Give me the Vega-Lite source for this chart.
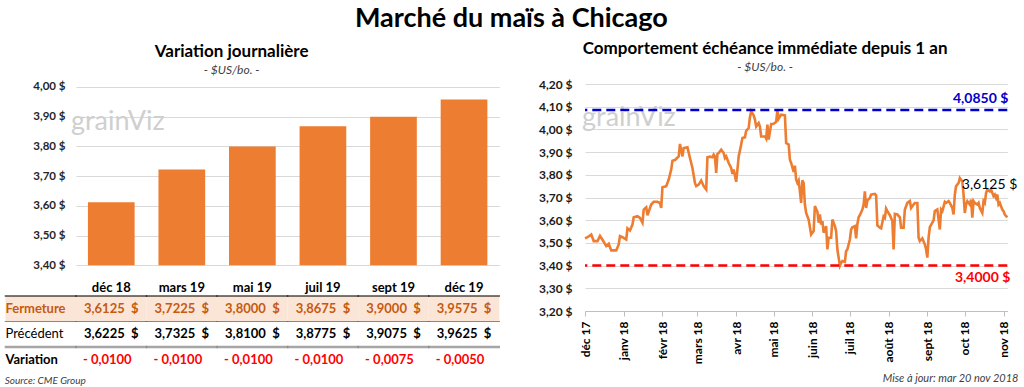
{
  "$schema": "https://vega.github.io/schema/vega-lite/v6.json",
  "background": "#FFFFFF",
  "padding": {"left": 4, "right": 4, "top": 5, "bottom": 0},
  "title": {"text": "Marché du maïs à Chicago", "fontSize": 27, "fontWeight": "bold", "anchor": "middle", "offset": 7, "color": "#000000"},
  "spacing": 37,
  "resolve": {"scale": {"x": "independent", "y": "independent", "color": "independent"}},
  "datasets": {
    "tableau": [
      {"rangee": "Fermeture", "contrat": "lib"},
      {"rangee": "Précédent", "contrat": "lib"},
      {"rangee": "Variation", "contrat": "lib"},
      {"rangee": "Fermeture", "contrat": "déc 18", "valeur": 3.6125},
      {"rangee": "Fermeture", "contrat": "mars 19", "valeur": 3.7225},
      {"rangee": "Fermeture", "contrat": "mai 19", "valeur": 3.8},
      {"rangee": "Fermeture", "contrat": "juil 19", "valeur": 3.8675},
      {"rangee": "Fermeture", "contrat": "sept 19", "valeur": 3.9},
      {"rangee": "Fermeture", "contrat": "déc 19", "valeur": 3.9575},
      {"rangee": "Précédent", "contrat": "déc 18", "valeur": 3.6225},
      {"rangee": "Précédent", "contrat": "mars 19", "valeur": 3.7325},
      {"rangee": "Précédent", "contrat": "mai 19", "valeur": 3.81},
      {"rangee": "Précédent", "contrat": "juil 19", "valeur": 3.8775},
      {"rangee": "Précédent", "contrat": "sept 19", "valeur": 3.9075},
      {"rangee": "Précédent", "contrat": "déc 19", "valeur": 3.9625},
      {"rangee": "Variation", "contrat": "déc 18", "valeur": -0.01},
      {"rangee": "Variation", "contrat": "mars 19", "valeur": -0.01},
      {"rangee": "Variation", "contrat": "mai 19", "valeur": -0.01},
      {"rangee": "Variation", "contrat": "juil 19", "valeur": -0.01},
      {"rangee": "Variation", "contrat": "sept 19", "valeur": -0.0075},
      {"rangee": "Variation", "contrat": "déc 19", "valeur": -0.005}
    ],
    "cours": [
      {"date": "2017-12-01", "prix": 3.52}, {"date": "2017-12-03", "prix": 3.525}, {"date": "2017-12-06", "prix": 3.537},
      {"date": "2017-12-08", "prix": 3.508}, {"date": "2017-12-11", "prix": 3.508}, {"date": "2017-12-13", "prix": 3.531},
      {"date": "2017-12-15", "prix": 3.514}, {"date": "2017-12-18", "prix": 3.486}, {"date": "2017-12-20", "prix": 3.496},
      {"date": "2017-12-22", "prix": 3.467}, {"date": "2017-12-24", "prix": 3.467}, {"date": "2017-12-26", "prix": 3.467},
      {"date": "2017-12-28", "prix": 3.493}, {"date": "2017-12-29", "prix": 3.53}, {"date": "2017-12-31", "prix": 3.525},
      {"date": "2018-01-03", "prix": 3.515}, {"date": "2018-01-04", "prix": 3.564}, {"date": "2018-01-06", "prix": 3.555},
      {"date": "2018-01-08", "prix": 3.581}, {"date": "2018-01-09", "prix": 3.613}, {"date": "2018-01-12", "prix": 3.618},
      {"date": "2018-01-14", "prix": 3.61}, {"date": "2018-01-16", "prix": 3.589}, {"date": "2018-01-17", "prix": 3.647},
      {"date": "2018-01-19", "prix": 3.657}, {"date": "2018-01-20", "prix": 3.622}, {"date": "2018-01-23", "prix": 3.669},
      {"date": "2018-01-25", "prix": 3.681}, {"date": "2018-01-28", "prix": 3.681}, {"date": "2018-01-30", "prix": 3.676},
      {"date": "2018-01-31", "prix": 3.654}, {"date": "2018-02-01", "prix": 3.745}, {"date": "2018-02-04", "prix": 3.75},
      {"date": "2018-02-06", "prix": 3.779}, {"date": "2018-02-08", "prix": 3.823}, {"date": "2018-02-09", "prix": 3.862},
      {"date": "2018-02-11", "prix": 3.865}, {"date": "2018-02-14", "prix": 3.881}, {"date": "2018-02-15", "prix": 3.936},
      {"date": "2018-02-17", "prix": 3.881}, {"date": "2018-02-18", "prix": 3.918}, {"date": "2018-02-21", "prix": 3.921},
      {"date": "2018-02-23", "prix": 3.874}, {"date": "2018-02-25", "prix": 3.83}, {"date": "2018-02-27", "prix": 3.764},
      {"date": "2018-02-28", "prix": 3.75}, {"date": "2018-03-02", "prix": 3.757}, {"date": "2018-03-04", "prix": 3.775},
      {"date": "2018-03-06", "prix": 3.75}, {"date": "2018-03-08", "prix": 3.735}, {"date": "2018-03-09", "prix": 3.877},
      {"date": "2018-03-11", "prix": 3.88}, {"date": "2018-03-13", "prix": 3.877}, {"date": "2018-03-14", "prix": 3.889},
      {"date": "2018-03-15", "prix": 3.881}, {"date": "2018-03-16", "prix": 3.808}, {"date": "2018-03-17", "prix": 3.892},
      {"date": "2018-03-18", "prix": 3.896}, {"date": "2018-03-20", "prix": 3.911}, {"date": "2018-03-22", "prix": 3.896},
      {"date": "2018-03-23", "prix": 3.874}, {"date": "2018-03-24", "prix": 3.881}, {"date": "2018-03-26", "prix": 3.852},
      {"date": "2018-03-28", "prix": 3.83}, {"date": "2018-03-29", "prix": 3.804}, {"date": "2018-03-30", "prix": 3.823},
      {"date": "2018-04-01", "prix": 3.769}, {"date": "2018-04-02", "prix": 3.823}, {"date": "2018-04-03", "prix": 3.881},
      {"date": "2018-04-05", "prix": 3.933}, {"date": "2018-04-06", "prix": 3.962}, {"date": "2018-04-08", "prix": 3.965},
      {"date": "2018-04-09", "prix": 3.994}, {"date": "2018-04-11", "prix": 4.006}, {"date": "2018-04-12", "prix": 4.053},
      {"date": "2018-04-13", "prix": 4.08}, {"date": "2018-04-15", "prix": 4.062}, {"date": "2018-04-16", "prix": 4.043},
      {"date": "2018-04-17", "prix": 4.013}, {"date": "2018-04-19", "prix": 4.028}, {"date": "2018-04-20", "prix": 4.013},
      {"date": "2018-04-21", "prix": 3.969}, {"date": "2018-04-24", "prix": 3.969}, {"date": "2018-04-25", "prix": 3.959},
      {"date": "2018-04-26", "prix": 4.021}, {"date": "2018-04-27", "prix": 3.955}, {"date": "2018-04-29", "prix": 4.024},
      {"date": "2018-05-01", "prix": 4.025}, {"date": "2018-05-03", "prix": 4.033}, {"date": "2018-05-04", "prix": 4.085},
      {"date": "2018-05-05", "prix": 4.047}, {"date": "2018-05-07", "prix": 4.065}, {"date": "2018-05-10", "prix": 4.062},
      {"date": "2018-05-11", "prix": 3.94}, {"date": "2018-05-13", "prix": 3.933}, {"date": "2018-05-14", "prix": 3.867},
      {"date": "2018-05-15", "prix": 3.852}, {"date": "2018-05-17", "prix": 3.813}, {"date": "2018-05-18", "prix": 3.84},
      {"date": "2018-05-19", "prix": 3.779}, {"date": "2018-05-20", "prix": 3.764}, {"date": "2018-05-21", "prix": 3.775},
      {"date": "2018-05-22", "prix": 3.727}, {"date": "2018-05-23", "prix": 3.676}, {"date": "2018-05-24", "prix": 3.776},
      {"date": "2018-05-25", "prix": 3.764}, {"date": "2018-05-26", "prix": 3.669}, {"date": "2018-05-27", "prix": 3.632},
      {"date": "2018-05-29", "prix": 3.603}, {"date": "2018-05-31", "prix": 3.537}, {"date": "2018-06-02", "prix": 3.552},
      {"date": "2018-06-03", "prix": 3.662}, {"date": "2018-06-05", "prix": 3.637}, {"date": "2018-06-06", "prix": 3.589},
      {"date": "2018-06-07", "prix": 3.625}, {"date": "2018-06-08", "prix": 3.581}, {"date": "2018-06-09", "prix": 3.596},
      {"date": "2018-06-10", "prix": 3.545}, {"date": "2018-06-12", "prix": 3.574}, {"date": "2018-06-13", "prix": 3.471},
      {"date": "2018-06-14", "prix": 3.523}, {"date": "2018-06-16", "prix": 3.523}, {"date": "2018-06-17", "prix": 3.603},
      {"date": "2018-06-19", "prix": 3.574}, {"date": "2018-06-20", "prix": 3.552}, {"date": "2018-06-21", "prix": 3.471},
      {"date": "2018-06-23", "prix": 3.4}, {"date": "2018-06-24", "prix": 3.413}, {"date": "2018-06-25", "prix": 3.42},
      {"date": "2018-06-27", "prix": 3.417}, {"date": "2018-06-28", "prix": 3.464}, {"date": "2018-06-29", "prix": 3.471},
      {"date": "2018-07-01", "prix": 3.515}, {"date": "2018-07-02", "prix": 3.559}, {"date": "2018-07-03", "prix": 3.569},
      {"date": "2018-07-05", "prix": 3.574}, {"date": "2018-07-06", "prix": 3.52}, {"date": "2018-07-07", "prix": 3.582},
      {"date": "2018-07-08", "prix": 3.613}, {"date": "2018-07-09", "prix": 3.622}, {"date": "2018-07-11", "prix": 3.647},
      {"date": "2018-07-12", "prix": 3.669}, {"date": "2018-07-13", "prix": 3.727}, {"date": "2018-07-14", "prix": 3.654},
      {"date": "2018-07-15", "prix": 3.687}, {"date": "2018-07-17", "prix": 3.698}, {"date": "2018-07-18", "prix": 3.713},
      {"date": "2018-07-21", "prix": 3.716}, {"date": "2018-07-22", "prix": 3.71}, {"date": "2018-07-23", "prix": 3.577},
      {"date": "2018-07-25", "prix": 3.567}, {"date": "2018-07-26", "prix": 3.564}, {"date": "2018-07-28", "prix": 3.616},
      {"date": "2018-07-29", "prix": 3.61}, {"date": "2018-07-30", "prix": 3.651}, {"date": "2018-07-31", "prix": 3.64},
      {"date": "2018-08-02", "prix": 3.622}, {"date": "2018-08-04", "prix": 3.596}, {"date": "2018-08-05", "prix": 3.471},
      {"date": "2018-08-06", "prix": 3.628}, {"date": "2018-08-08", "prix": 3.625}, {"date": "2018-08-10", "prix": 3.613},
      {"date": "2018-08-11", "prix": 3.567}, {"date": "2018-08-13", "prix": 3.567}, {"date": "2018-08-14", "prix": 3.647},
      {"date": "2018-08-16", "prix": 3.676}, {"date": "2018-08-18", "prix": 3.684}, {"date": "2018-08-19", "prix": 3.654},
      {"date": "2018-08-21", "prix": 3.669}, {"date": "2018-08-22", "prix": 3.676}, {"date": "2018-08-24", "prix": 3.676},
      {"date": "2018-08-25", "prix": 3.523}, {"date": "2018-08-26", "prix": 3.508}, {"date": "2018-08-28", "prix": 3.52},
      {"date": "2018-08-30", "prix": 3.493}, {"date": "2018-08-31", "prix": 3.471}, {"date": "2018-09-01", "prix": 3.435},
      {"date": "2018-09-02", "prix": 3.523}, {"date": "2018-09-03", "prix": 3.569}, {"date": "2018-09-05", "prix": 3.589},
      {"date": "2018-09-06", "prix": 3.599}, {"date": "2018-09-07", "prix": 3.64}, {"date": "2018-09-09", "prix": 3.647},
      {"date": "2018-09-11", "prix": 3.559}, {"date": "2018-09-12", "prix": 3.647}, {"date": "2018-09-13", "prix": 3.64},
      {"date": "2018-09-15", "prix": 3.681}, {"date": "2018-09-16", "prix": 3.676}, {"date": "2018-09-18", "prix": 3.684},
      {"date": "2018-09-19", "prix": 3.676}, {"date": "2018-09-21", "prix": 3.654}, {"date": "2018-09-22", "prix": 3.625},
      {"date": "2018-09-23", "prix": 3.713}, {"date": "2018-09-24", "prix": 3.75}, {"date": "2018-09-26", "prix": 3.764},
      {"date": "2018-09-27", "prix": 3.786}, {"date": "2018-09-29", "prix": 3.771}, {"date": "2018-09-30", "prix": 3.713},
      {"date": "2018-10-01", "prix": 3.632}, {"date": "2018-10-02", "prix": 3.669}, {"date": "2018-10-03", "prix": 3.684},
      {"date": "2018-10-05", "prix": 3.669}, {"date": "2018-10-06", "prix": 3.691}, {"date": "2018-10-07", "prix": 3.611},
      {"date": "2018-10-08", "prix": 3.684}, {"date": "2018-10-09", "prix": 3.676}, {"date": "2018-10-11", "prix": 3.669},
      {"date": "2018-10-12", "prix": 3.676}, {"date": "2018-10-13", "prix": 3.654}, {"date": "2018-10-15", "prix": 3.632},
      {"date": "2018-10-16", "prix": 3.684}, {"date": "2018-10-17", "prix": 3.676}, {"date": "2018-10-18", "prix": 3.72},
      {"date": "2018-10-19", "prix": 3.735}, {"date": "2018-10-21", "prix": 3.727}, {"date": "2018-10-22", "prix": 3.735},
      {"date": "2018-10-24", "prix": 3.706}, {"date": "2018-10-25", "prix": 3.713}, {"date": "2018-10-26", "prix": 3.698},
      {"date": "2018-10-27", "prix": 3.713}, {"date": "2018-10-28", "prix": 3.669}, {"date": "2018-10-29", "prix": 3.676},
      {"date": "2018-10-31", "prix": 3.647}, {"date": "2018-11-01", "prix": 3.64}, {"date": "2018-11-02", "prix": 3.625},
      {"date": "2018-11-04", "prix": 3.6125}
    ]
  },
  "hconcat": [
    {
      "vconcat": [
        {
          "width": 423.3,
          "height": 181.3,
          "title": {"text": "Variation journalière", "subtitle": "- $US/bo. -", "dx": -56},
          "layer": [
            {
              "data": {"name": "tableau"},
              "transform": [{"filter": "datum.rangee == 'Fermeture' && datum.contrat != 'lib'"}],
              "mark": {"type": "bar", "color": "#ED7D31"},
              "encoding": {
                "x": {"field": "contrat", "type": "nominal",
                  "scale": {"domain": ["déc 18", "mars 19", "mai 19", "juil 19", "sept 19", "déc 19"], "paddingInner": 0.338, "paddingOuter": 0.169},
                  "axis": {"title": null, "domain": false, "ticks": false, "tickSize": 0, "labelPadding": 16, "labelFontSize": 13, "labelFontWeight": "bold", "labelColor": "#000000", "labelAngle": 0, "bandPosition": 0.5}},
                "y": {"field": "valeur", "type": "quantitative",
                  "scale": {"domain": [3.4, 4.01], "zero": false, "nice": false},
                  "axis": {"title": null, "values": [3.4, 3.5, 3.6, 3.7, 3.8, 3.9, 4.0], "labelOverlap": false, "labelExpr": "replace(format(datum.value, '.2f'), '.', ',') + ' $'", "grid": true, "gridColor": "#D9D9D9", "domain": false, "ticks": false, "tickSize": 0, "labelPadding": 11, "labelFontSize": 11.5, "labelFontWeight": "bold", "labelColor": "#262626"}},
                "y2": {"datum": 3.4}
              }
            },
            {
              "data": {"values": [{}]},
              "mark": {"type": "text", "text": "grainViz", "align": "left", "baseline": "alphabetic", "fontSize": 27, "color": "#CFCFCF", "dx": -17},
              "encoding": {
                "x": {"datum": "déc 18", "bandPosition": 0, "axis": {"title": null, "domain": false, "ticks": false, "tickSize": 0, "labelPadding": 16, "labelFontSize": 13, "labelFontWeight": "bold", "labelColor": "#000000", "labelAngle": 0, "bandPosition": 0.5}},
                "y": {"datum": 3.855, "axis": {"title": null, "values": [3.4, 3.5, 3.6, 3.7, 3.8, 3.9, 4.0], "labelOverlap": false, "labelExpr": "replace(format(datum.value, '.2f'), '.', ',') + ' $'", "grid": true, "gridColor": "#D9D9D9", "domain": false, "ticks": false, "tickSize": 0, "labelPadding": 11, "labelFontSize": 11.5, "labelFontWeight": "bold", "labelColor": "#262626"}}
              }
            }
          ]
        },
        {
          "width": 423.3,
          "height": 76.5,
          "data": {"name": "tableau"},
          "title": {"text": "Source: CME Group", "orient": "bottom", "anchor": "start", "frame": "bounds", "fontSize": 10, "subtitleFontSize": 10, "fontStyle": "italic", "fontWeight": "normal", "color": "#404040", "offset": 3},
          "transform": [
            {"calculate": "datum.contrat == 'lib' ? datum.rangee : (datum.rangee == 'Variation' ? (datum.valeur < 0 ? '- ' : '+ ') + replace(format(abs(datum.valeur), '.4f'), '.', ',') : replace(format(datum.valeur, '.4f'), '.', ',') + '\u00a0\u00a0$')", "as": "texte"}
          ],
          "encoding": {
            "x": {"field": "contrat", "type": "nominal",
              "scale": {"domain": ["lib", "déc 18", "mars 19", "mai 19", "juil 19", "sept 19", "déc 19"], "range": [-70.55, 423.3], "paddingInner": 0, "paddingOuter": 0},
              "axis": null},
            "y": {"field": "rangee", "type": "nominal",
              "scale": {"domain": ["Fermeture", "Précédent", "Variation"], "paddingInner": 0, "paddingOuter": 0},
              "axis": null}
          },
          "layer": [
            {
              "transform": [{"filter": "datum.rangee == 'Fermeture'"}],
              "mark": {"type": "rect", "color": "#FBE5D6"}
            },
            {
              "transform": [{"filter": "datum.rangee == 'Fermeture'"}],
              "mark": {"type": "tick", "orient": "horizontal", "color": "#000000", "thickness": 1.5, "size": 72},
              "encoding": {"y": {"field": "rangee", "type": "nominal", "bandPosition": 0}}
            },
            {
              "transform": [{"filter": "datum.rangee == 'Précédent'"}],
              "mark": {"type": "tick", "orient": "horizontal", "color": "#595959", "thickness": 0.8, "size": 72},
              "encoding": {"y": {"field": "rangee", "type": "nominal", "bandPosition": 0}}
            },
            {
              "transform": [{"filter": "datum.rangee == 'Variation'"}],
              "mark": {"type": "tick", "orient": "horizontal", "color": "#808080", "thickness": 2.5, "size": 72},
              "encoding": {"y": {"field": "rangee", "type": "nominal", "bandPosition": 0}}
            },
            {
              "transform": [{"filter": "datum.contrat != 'lib' && datum.rangee != 'Variation'"}],
              "mark": {"type": "text", "fontSize": 13, "fontWeight": "bold", "align": "center", "baseline": "middle"},
              "encoding": {
                "text": {"field": "texte"},
                "color": {"condition": {"test": "datum.rangee == 'Fermeture'", "value": "#C55A11"}, "value": "#000000"}
              }
            },
            {
              "transform": [{"filter": "datum.contrat != 'lib' && datum.rangee == 'Variation'"}],
              "mark": {"type": "text", "fontSize": 13, "fontWeight": "bold", "align": "center", "baseline": "middle", "dx": -4, "color": "#FF0000"},
              "encoding": {"text": {"field": "texte"}}
            },
            {
              "transform": [{"filter": "datum.contrat == 'lib' && datum.rangee != 'Précédent'"}],
              "mark": {"type": "text", "fontSize": 13, "fontWeight": "bold", "align": "left", "baseline": "middle"},
              "encoding": {
                "x": {"field": "contrat", "type": "nominal", "bandPosition": 0},
                "text": {"field": "texte"},
                "color": {"condition": {"test": "datum.rangee == 'Fermeture'", "value": "#C55A11"}, "value": "#000000"}
              }
            },
            {
              "transform": [{"filter": "datum.contrat == 'lib' && datum.rangee == 'Précédent'"}],
              "mark": {"type": "text", "fontSize": 13, "fontWeight": "normal", "align": "left", "baseline": "middle", "color": "#000000"},
              "encoding": {
                "x": {"field": "contrat", "type": "nominal", "bandPosition": 0},
                "text": {"field": "texte"}
              }
            }
          ]
        }
      ],
      "spacing": 0,
      "resolve": {"scale": {"x": "independent", "y": "independent"}}
    },
    {
      "width": 422.3,
      "height": 227,
      "title": {"text": "Comportement échéance immédiate depuis 1 an", "subtitle": "- $US/bo. -", "dx": -31},
      "data": {"name": "cours"},
      "encoding": {
        "x": {"field": "date", "type": "temporal",
          "scale": {"type": "utc", "domain": [{"year": 2017, "month": 12, "date": 1, "utc": true}, {"year": 2018, "month": 11, "date": 4, "utc": true}]},
          "axis": {
            "values": [
              {"year": 2017, "month": 12, "date": 1, "utc": true}, {"year": 2018, "month": 1, "date": 1, "utc": true},
              {"year": 2018, "month": 2, "date": 1, "utc": true}, {"year": 2018, "month": 3, "date": 1, "utc": true},
              {"year": 2018, "month": 4, "date": 1, "utc": true}, {"year": 2018, "month": 5, "date": 1, "utc": true},
              {"year": 2018, "month": 6, "date": 1, "utc": true}, {"year": 2018, "month": 7, "date": 1, "utc": true},
              {"year": 2018, "month": 8, "date": 1, "utc": true}, {"year": 2018, "month": 9, "date": 1, "utc": true},
              {"year": 2018, "month": 10, "date": 1, "utc": true}, {"year": 2018, "month": 11, "date": 1, "utc": true}
            ],
            "labelExpr": "['janv','févr','mars','avr','mai','juin','juil','août','sept','oct','nov','déc'][utcmonth(datum.value)] + ' ' + utcFormat(datum.value, '%y')",
            "labelAngle": -90, "labelAlign": "right", "labelBaseline": "middle",
            "labelFontSize": 12, "labelFontWeight": "bold", "labelColor": "#000000",
            "labelOverlap": false, "labelFlush": false, "labelPadding": 5,
            "domainColor": "#BFBFBF", "tickColor": "#BFBFBF", "tickSize": 5, "grid": false,
            "title": "Mise à jour: mar 20 nov 2018", "titleAnchor": "end", "titleAlign": "right", "titleX": 433, "titleFontSize": 11, "titleFontStyle": "italic", "titleFontWeight": "normal", "titleColor": "#404040", "titlePadding": 9
          }},
        "y": {"field": "prix", "type": "quantitative",
          "scale": {"domain": [3.2, 4.2], "zero": false, "nice": false},
          "axis": {"title": null, "values": [3.2, 3.3, 3.4, 3.5, 3.6, 3.7, 3.8, 3.9, 4.0, 4.1, 4.2], "labelOverlap": false, "labelExpr": "replace(format(datum.value, '.2f'), '.', ',') + ' $'", "grid": true, "gridColor": "#D9D9D9", "domain": false, "ticks": false, "tickSize": 0, "labelPadding": 13, "labelFontSize": 12, "labelFontWeight": "bold", "labelColor": "#1A1A1A"}}
      },
      "layer": [
        {
          "transform": [
            {"joinaggregate": [{"op": "min", "field": "date", "as": "dmin"}]},
            {"filter": "time(datum.date) == time(datum.dmin)"}
          ],
          "mark": {"type": "text", "text": "grainViz", "align": "left", "baseline": "alphabetic", "fontSize": 27, "color": "#CFCFCF", "dx": -3},
          "encoding": {
            "y": {"datum": 4.016, "type": "quantitative", "axis": {"title": null, "values": [3.2, 3.3, 3.4, 3.5, 3.6, 3.7, 3.8, 3.9, 4.0, 4.1, 4.2], "labelOverlap": false, "labelExpr": "replace(format(datum.value, '.2f'), '.', ',') + ' $'", "grid": true, "gridColor": "#D9D9D9", "domain": false, "ticks": false, "tickSize": 0, "labelPadding": 13, "labelFontSize": 12, "labelFontWeight": "bold", "labelColor": "#1A1A1A"}}
          }
        },
        {
          "mark": {"type": "line", "color": "#ED7D31", "strokeWidth": 2.6}
        },
        {
          "transform": [
            {"joinaggregate": [{"op": "max", "field": "prix", "as": "pmax"}, {"op": "min", "field": "prix", "as": "pmin"}, {"op": "max", "field": "date", "as": "dmax"}]},
            {"filter": "time(datum.date) == time(datum.dmax)"},
            {"fold": ["pmax", "pmin"], "as": ["extreme", "niveau"]},
            {"calculate": "replace(format(datum.niveau, '.4f'), '.', ',') + ' $'", "as": "etiquette"}
          ],
          "layer": [
            {
              "mark": {"type": "rule", "strokeDash": [9, 5], "strokeWidth": 2.5},
              "encoding": {
                "x": null,
                "y": {"field": "niveau", "type": "quantitative"},
                "color": {"field": "extreme", "type": "nominal", "scale": {"domain": ["pmax", "pmin"], "range": ["#0000CC", "#FF0000"]}, "legend": null}
              }
            },
            {
              "transform": [{"filter": "datum.extreme == 'pmax'"}],
              "mark": {"type": "text", "align": "right", "baseline": "bottom", "dy": -4, "dx": 1, "fontSize": 14, "fontWeight": "bold", "color": "#0000CC"},
              "encoding": {
                "y": {"field": "niveau", "type": "quantitative"},
                "text": {"field": "etiquette"}
              }
            },
            {
              "transform": [{"filter": "datum.extreme == 'pmin'"}],
              "mark": {"type": "text", "align": "right", "baseline": "top", "dy": 5, "dx": 3, "fontSize": 14, "fontWeight": "bold", "color": "#FF0000"},
              "encoding": {
                "y": {"field": "niveau", "type": "quantitative"},
                "text": {"field": "etiquette"}
              }
            }
          ]
        },
        {
          "transform": [
            {"joinaggregate": [{"op": "max", "field": "date", "as": "dmax"}]},
            {"filter": "time(datum.date) == time(datum.dmax)"},
            {"calculate": "replace(format(datum.prix, '.4f'), '.', ',') + ' $'", "as": "etiquette"}
          ],
          "mark": {"type": "text", "align": "right", "baseline": "middle", "dx": 10, "dy": -32, "fontSize": 14, "color": "#000000"},
          "encoding": {"text": {"field": "etiquette"}}
        }
      ]
    }
  ],
  "config": {
    "font": "Lato",
    "view": {"stroke": null},
    "title": {"fontSize": 17, "fontWeight": "bold", "color": "#000000", "subtitleFontSize": 12, "subtitleFontStyle": "italic", "subtitleColor": "#404040", "subtitlePadding": 4, "offset": 4, "anchor": "middle"}
  }
}
